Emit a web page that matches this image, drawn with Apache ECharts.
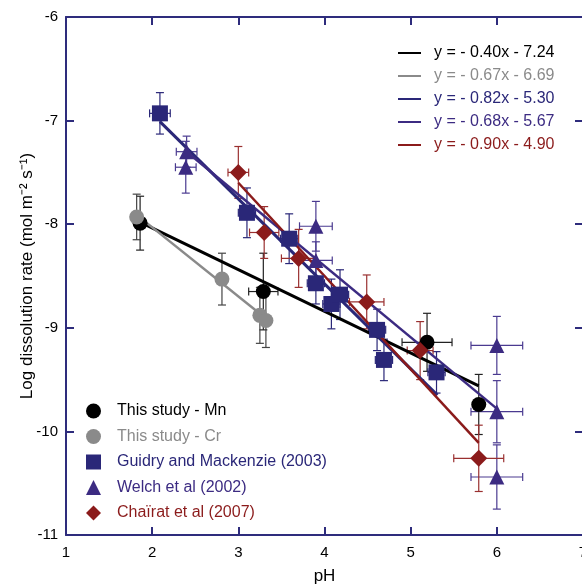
<!DOCTYPE html>
<html>
<head>
<meta charset="utf-8">
<script src="https://cdn.jsdelivr.net/npm/echarts@6/dist/echarts.min.js"></script>
<style>
html,body{margin:0;padding:0;background:#fff;}
#chart{width:582px;height:587px;}
</style>
</head>
<body>
<div id="chart"></div>
<script>
// ---- Data ----
const xTicks = [1, 2, 3, 4, 5, 6, 7];
const yTicks = [-11, -10, -9, -8, -7, -6];

const mnPH   = [1.86, 3.29, 5.19, 5.79];
const mnRate = [-7.99, -8.65, -9.14, -9.74];
const mnErrX = [0.05, 0.17, 0.29, 0.06];
const mnErrY = [0.26, 0.37, 0.28, 0.29];

const crPH   = [1.82, 2.81, 3.25, 3.32];
const crRate = [-7.93, -8.53, -8.88, -8.93];
const crErrX = [0.03, 0.03, 0.03, 0.03];
const crErrY = [0.22, 0.25, 0.27, 0.26];

const guidryPH   = [2.09, 3.10, 3.59, 3.90, 4.08, 4.18, 4.61, 4.69, 5.30];
const guidryRate = [-6.93, -7.89, -8.14, -8.57, -8.77, -8.68, -9.02, -9.31, -9.43];
const guidryErrX = [0.12, 0.10, 0.10, 0.10, 0.10, 0.10, 0.10, 0.10, 0.10];
const guidryErrY = [0.20, 0.24, 0.24, 0.20, 0.24, 0.24, 0.20, 0.20, 0.20];

const welchPH   = [2.40, 2.39, 3.90, 3.90, 6.00, 6.00, 6.00];
const welchRate = [-7.30, -7.45, -8.02, -8.35, -9.17, -9.81, -10.44];
const welchErrX = [0.12, 0.12, 0.19, 0.19, 0.30, 0.30, 0.30];
const welchErrY = [0.15, 0.25, 0.24, 0.18, 0.28, 0.30, 0.31];

const chairatPH   = [3.00, 3.30, 3.70, 4.49, 5.11, 5.79];
const chairatRate = [-7.50, -8.08, -8.33, -8.75, -9.22, -10.26];
const chairatErrX = [0.12, 0.17, 0.20, 0.20, 0.15, 0.29];
const chairatErrY = [0.25, 0.25, 0.28, 0.26, 0.28, 0.32];

// Fit lines: [pH start, pH end], [rate start, rate end]
const fitMnX = [1.86, 5.79],      fitMnY = [-7.98, -9.56];
const fitCrX = [1.82, 3.32],      fitCrY = [-7.91, -8.91];
const fitGuidryX = [2.09, 5.31],  fitGuidryY = [-7.01, -9.65];
const fitWelchX = [2.40, 6.00],   fitWelchY = [-7.30, -9.78];
const fitChairatX = [3.00, 5.79], fitChairatY = [-7.60, -10.11];

const seriesNames = ['This study - Mn', 'This study - Cr', 'Guidry and Mackenzie (2003)', 'Welch et al (2002)', 'Chaïrat et al (2007)'];
const fitNames = ['y = - 0.40x - 7.24', 'y = - 0.67x - 6.69', 'y = - 0.82x - 5.30', 'y = - 0.68x - 5.67', 'y = - 0.90x - 4.90'];

// ---- Styles ----
const C_MN = '#000000', C_CR = '#8a8a8a', C_GU = '#2a2778', C_WE = '#3c2b82', C_CH = '#8b1b1b';
const C_AXIS = '#2e2c7c';
const FONT = '"Liberation Sans", Arial, Helvetica, sans-serif';

function zip(a, b) { return a.map((v, i) => [v, b[i]]); }
function zip4(a, b, c, d) { return a.map((v, i) => [v, b[i], c[i], d[i]]); }

function errSeries(data, color) {
  return {
    type: 'custom',
    silent: true,
    z: 2,
    data: data,
    renderItem: function (params, api) {
      const x = api.value(0), y = api.value(1), ex = api.value(2), ey = api.value(3);
      const t = api.coord([x, y + ey]);
      const b = api.coord([x, y - ey]);
      const l = api.coord([x - ex, y]);
      const r = api.coord([x + ex, y]);
      const cap = 4;
      const st = { stroke: color, lineWidth: 1.2 };
      return {
        type: 'group',
        children: [
          { type: 'line', shape: { x1: t[0], y1: t[1], x2: b[0], y2: b[1] }, style: st },
          { type: 'line', shape: { x1: t[0] - cap, y1: t[1], x2: t[0] + cap, y2: t[1] }, style: st },
          { type: 'line', shape: { x1: b[0] - cap, y1: b[1], x2: b[0] + cap, y2: b[1] }, style: st },
          { type: 'line', shape: { x1: l[0], y1: l[1], x2: r[0], y2: r[1] }, style: st },
          { type: 'line', shape: { x1: l[0], y1: l[1] - cap, x2: l[0], y2: l[1] + cap }, style: st },
          { type: 'line', shape: { x1: r[0], y1: r[1] - cap, x2: r[0], y2: r[1] + cap }, style: st }
        ]
      };
    }
  };
}

function fitSeries(name, xs, ys, color, width) {
  return {
    name: name, type: 'line', data: zip(xs, ys), symbol: 'none', z: 3,
    lineStyle: { color: color, width: width }, itemStyle: { color: color },
    emphasis: { disabled: true }, animation: false
  };
}

function ptSeries(name, xs, ys, color, symbol, size) {
  return {
    name: name, type: 'scatter', data: zip(xs, ys), symbol: symbol, symbolSize: size, z: 4,
    itemStyle: { color: color, opacity: 1 }, emphasis: { disabled: true }, animation: false
  };
}

const chart = echarts.init(document.getElementById('chart'), null, { renderer: 'canvas' });

const axisLine = { show: true, lineStyle: { color: C_AXIS, width: 2 } };
const axisTick = { show: true, inside: true, length: 8, lineStyle: { color: C_AXIS, width: 2 } };

const option = {
  animation: false,
  backgroundColor: '#ffffff',
  textStyle: { fontFamily: FONT },
  grid: { left: 66, top: 17, width: 517, bottom: 52, containLabel: false, outerBoundsMode: 'none' },
  xAxis: [
    {
      type: 'value', min: xTicks[0], max: xTicks[xTicks.length - 1], interval: 1, position: 'bottom',
      name: 'pH', nameLocation: 'middle', nameGap: 33, nameMoveOverlap: false,
      nameTextStyle: { color: '#000', fontSize: 17, fontFamily: FONT },
      axisLine: axisLine, axisTick: axisTick, splitLine: { show: false },
      axisLabel: { color: '#000', fontSize: 15, margin: 10, fontFamily: FONT }
    },
    {
      type: 'value', min: xTicks[0], max: xTicks[xTicks.length - 1], interval: 1, position: 'top',
      axisLine: axisLine, axisTick: axisTick, splitLine: { show: false }, axisLabel: { show: false }
    }
  ],
  yAxis: [
    {
      type: 'value', min: yTicks[0], max: yTicks[yTicks.length - 1], interval: 1, position: 'left',
      name: 'Log dissolution rate (mol m\u207B\u00B2 s\u207B\u00B9)', nameLocation: 'middle', nameGap: 30,
      nameMoveOverlap: false,
      nameTextStyle: { color: '#000', fontSize: 17, fontFamily: FONT },
      axisLine: axisLine, axisTick: axisTick, splitLine: { show: false },
      axisLabel: { color: '#000', fontSize: 15, margin: 8, fontFamily: FONT }
    },
    {
      type: 'value', min: yTicks[0], max: yTicks[yTicks.length - 1], interval: 1, position: 'right',
      axisLine: axisLine, axisTick: axisTick, splitLine: { show: false }, axisLabel: { show: false }
    }
  ],
  legend: [
    {
      orient: 'vertical', left: 397, top: 45, padding: 0, itemWidth: 23, itemHeight: 14, itemGap: 7,
      selectedMode: false,
      itemStyle: { color: 'rgba(0,0,0,0)', borderWidth: 0, opacity: 0 },
      textStyle: { fontSize: 16, fontFamily: FONT, padding: [0, 0, 0, 8] },
      data: [
        { name: fitNames[0], textStyle: { color: C_MN } },
        { name: fitNames[1], textStyle: { color: C_CR } },
        { name: fitNames[2], textStyle: { color: C_GU } },
        { name: fitNames[3], textStyle: { color: C_WE } },
        { name: fitNames[4], textStyle: { color: C_CH } }
      ]
    },
    {
      orient: 'vertical', left: 86, top: 403, padding: 0, itemWidth: 15, itemHeight: 15, itemGap: 9.5,
      selectedMode: false,
      textStyle: { fontSize: 16, fontFamily: FONT, padding: [0, 0, 0, 11] },
      data: [
        { name: seriesNames[0], textStyle: { color: C_MN } },
        { name: seriesNames[1], textStyle: { color: C_CR } },
        { name: seriesNames[2], textStyle: { color: C_GU } },
        { name: seriesNames[3], textStyle: { color: C_WE } },
        { name: seriesNames[4], textStyle: { color: C_CH } }
      ]
    }
  ],
  series: [
    errSeries(zip4(mnPH, mnRate, mnErrX, mnErrY), '#222222'),
    errSeries(zip4(crPH, crRate, crErrX, crErrY), '#444444'),
    errSeries(zip4(guidryPH, guidryRate, guidryErrX, guidryErrY), C_GU),
    errSeries(zip4(welchPH, welchRate, welchErrX, welchErrY), '#4a3a90'),
    errSeries(zip4(chairatPH, chairatRate, chairatErrX, chairatErrY), '#9a3030'),

    fitSeries(fitNames[0], fitMnX, fitMnY, C_MN, 3),
    fitSeries(fitNames[1], fitCrX, fitCrY, C_CR, 2.5),
    fitSeries(fitNames[2], fitGuidryX, fitGuidryY, C_GU, 3),
    fitSeries(fitNames[3], fitWelchX, fitWelchY, C_WE, 2.5),
    fitSeries(fitNames[4], fitChairatX, fitChairatY, C_CH, 2.5),

    ptSeries(seriesNames[0], mnPH, mnRate, C_MN, 'circle', 15),
    ptSeries(seriesNames[1], crPH, crRate, C_CR, 'circle', 15),
    ptSeries(seriesNames[2], guidryPH, guidryRate, C_GU, 'rect', 16),
    ptSeries(seriesNames[3], welchPH, welchRate, C_WE, 'triangle', 15),
    ptSeries(seriesNames[4], chairatPH, chairatRate, C_CH, 'diamond', 17)
  ]
};
chart.setOption(option);
</script>
</body>
</html>
